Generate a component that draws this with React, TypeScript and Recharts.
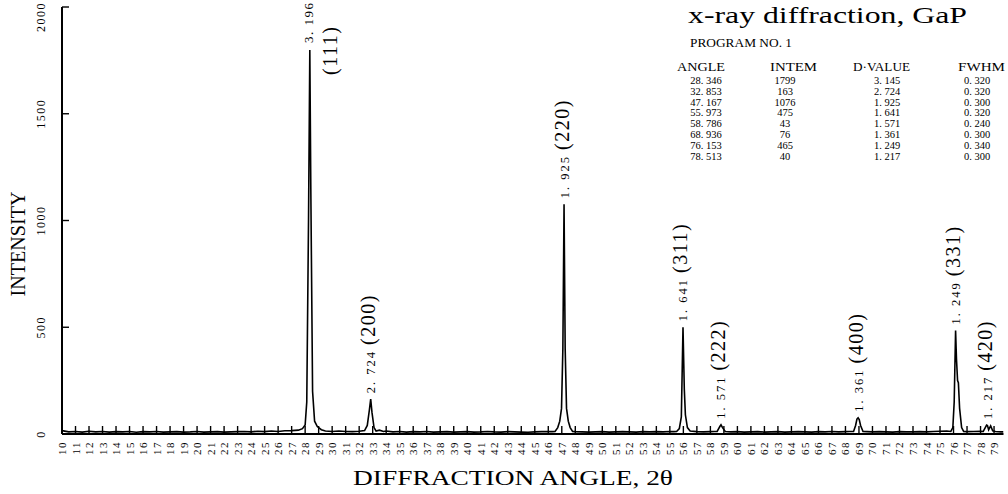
import React from 'react';
import { LineChart, Line, XAxis, YAxis, ReferenceDot, Label } from 'recharts';

// ---- measured scan (2θ in degrees, intensity in counts) ----
const scanAngle = [
  10, 10.5, 11, 11.5, 12, 12.5, 13, 13.5, 14, 14.5, 15, 15.5, 16, 16.5, 17, 17.5, 18, 18.5, 19, 19.5,
  20, 20.5, 21, 21.5, 22, 22.5, 23, 23.5, 24, 24.5, 25, 25.5, 26, 26.5, 27, 27.5, 27.8,
  28.0, 28.12, 28.25, 28.346, 28.42, 28.55, 28.7, 28.9, 29.2, 29.5,
  30, 30.5, 31, 31.5, 32, 32.4, 32.6, 32.75, 32.853, 32.95, 33.1, 33.25, 33.5, 33.8,
  34, 34.5, 35, 35.5, 36, 36.5, 37, 37.5, 38, 38.5, 39, 39.5, 40, 40.5, 41, 41.5, 42, 42.5, 43, 43.5,
  44, 44.5, 45, 45.5, 46, 46.3,
  46.5, 46.7, 46.85, 46.98, 47.08, 47.167, 47.25, 47.35, 47.48, 47.62, 47.8,
  48, 48.5, 49, 49.5, 50, 50.5, 51, 51.5, 52, 52.5, 53, 53.5, 54, 54.5, 55, 55.3,
  55.5, 55.7, 55.85, 55.973, 56.07, 56.15, 56.3, 56.5,
  57, 57.5, 58, 58.3, 58.5, 58.7, 58.786, 58.9, 59.1, 59.5,
  60, 60.5, 61, 61.5, 62, 62.5, 63, 63.5, 64, 64.5, 65, 65.5, 66, 66.5, 67, 67.5, 68, 68.3, 68.6,
  68.75, 68.85, 68.936, 69.02, 69.12, 69.3,
  69.6, 70, 70.5, 71, 71.5, 72, 72.5, 73, 73.5, 74, 74.5, 75, 75.5, 75.8,
  75.95, 76.05, 76.153, 76.22, 76.3, 76.36, 76.45, 76.6, 76.75,
  77, 77.5, 78, 78.2, 78.35, 78.45, 78.513, 78.6, 78.75, 78.9, 79.1, 79.5, 79.7,
];
const scanIntensity = [
  16, 10, 12, 9, 13, 10, 12, 9, 11, 10, 12, 8, 11, 10, 12, 9, 10, 11, 9, 10,
  12, 9, 10, 11, 9, 10, 11, 12, 10, 13, 11, 14, 12, 15, 16, 18, 25,
  42, 150, 1000, 1799, 1150, 200, 60, 35, 20, 14,
  12, 14, 12, 11, 13, 16, 40, 110, 163, 100, 30, 14, 18, 12,
  14, 10, 12, 9, 11, 10, 12, 9, 10, 11, 9, 10, 11, 9, 10, 12, 10, 9, 11, 10,
  9, 8, 10, 11, 12, 11,
  12, 30, 60, 120, 400, 1076, 400, 120, 60, 30, 12,
  11, 10, 9, 10, 11, 9, 10, 11, 10, 9, 11, 10, 11, 10, 12, 11,
  12, 25, 80, 500, 210, 90, 30, 14,
  11, 10, 11, 12, 12, 35, 43, 30, 12, 10,
  11, 9, 10, 11, 9, 10, 11, 9, 10, 11, 10, 9, 11, 10, 12, 10, 11, 12, 12,
  40, 70, 76, 68, 40, 12,
  11, 10, 11, 10, 9, 11, 10, 10, 11, 10, 12, 13, 14, 12,
  30, 150, 485, 350, 250, 240, 120, 30, 12,
  11, 12, 13, 12, 30, 42, 40, 20, 38, 15, 12, 10, 10,
];

// ---- peak annotations ----
const peakAngle = [28.346, 32.853, 47.167, 55.973, 58.786, 68.936, 76.153, 78.513];
const peakTop = [1799, 163, 1076, 500, 43, 76, 485, 42];
const peakD = ['3. 196', '2. 724', '1. 925', '1. 641', '1. 571', '1. 361', '1. 249', '1. 217'];
const peakHkl = ['(111)', '(200)', '(220)', '(311)', '(222)', '(400)', '(331)', '(420)'];

// ---- axes ----
const xTicks = Array.from({ length: 70 }, (_, i) => 10 + i);
const yTicks = [0, 500, 1000, 1500, 2000];

// ---- table in the corner ----
const tableHeaders = ['ANGLE', 'INTEM', 'D·VALUE', 'FWHM'];
const tableAngle = ['28. 346', '32. 853', '47. 167', '55. 973', '58. 786', '68. 936', '76. 153', '78. 513'];
const tableIntem = ['1799', '163', '1076', '475', '43', '76', '465', '40'];
const tableDValue = ['3. 145', '2. 724', '1. 925', '1. 641', '1. 571', '1. 361', '1. 249', '1. 217'];
const tableFwhm = ['0. 320', '0. 320', '0. 300', '0. 320', '0. 240', '0. 300', '0. 340', '0. 300'];

const data = scanAngle.map((a, i) => ({ angle: a, intensity: scanIntensity[i] }));

const FONT = '"Liberation Serif", "Times New Roman", serif';

const XTick = (p: any) => {
  const { x, y, payload } = p;
  const ty = y + 7;
  return (
    <g>
      <line x1={x} y1={y} x2={x} y2={y - 8} stroke="#000" strokeWidth={1.4} />
      <text
        x={x}
        y={ty}
        transform={`rotate(-90 ${x} ${ty})`}
        textAnchor="end"
        dominantBaseline="central"
        fontSize={11}
        letterSpacing={1.5}
        fill="#000"
        fontFamily={FONT}
      >
        {payload.value}
      </text>
    </g>
  );
};

const YTick = (p: any) => {
  const { x, y, payload } = p;
  const lx = x - 21;
  const ly = Math.max(y, 17);
  return (
    <g>
      <line x1={x} y1={y} x2={x + 7} y2={y} stroke="#000" strokeWidth={1.4} />
      <text
        x={lx}
        y={ly}
        transform={`rotate(-90 ${lx} ${ly})`}
        textAnchor="middle"
        dominantBaseline="central"
        fontSize={12}
        letterSpacing={1.5}
        fill="#000"
        fontFamily={FONT}
      >
        {payload.value}
      </text>
    </g>
  );
};

const PeakLabel = (p: any) => {
  const { cx, cy, idx } = p;
  if (cx == null || cy == null) return null;
  if (idx === 0) {
    const ax = cx + 3;
    const ay = cy - 7;
    const hx = cx + 27;
    const hy = cy + 25;
    return (
      <g fontFamily={FONT} fill="#000">
        <text x={ax} y={ay} transform={`rotate(-90 ${ax} ${ay})`} fontSize={13} letterSpacing={1.5}>
          {peakD[idx]}
        </text>
        <text x={hx} y={hy} transform={`rotate(-90 ${hx} ${hy})`} fontSize={20} letterSpacing={1.5}>
          {peakHkl[idx]}
        </text>
      </g>
    );
  }
  const ax = cx + 4.5;
  const ay = cy - 6;
  return (
    <text x={ax} y={ay} transform={`rotate(-90 ${ax} ${ay})`} fontFamily={FONT} fill="#000">
      <tspan fontSize={12.5} letterSpacing={2}>{peakD[idx]}</tspan>
      <tspan fontSize={20} letterSpacing={1.5} dx={5}>{peakHkl[idx]}</tspan>
    </text>
  );
};

const colCenter = [706, 785, 887, 977];
const headerX = [677, 770, 853, 958];
const headerW = [48, 47, 57, 47];

export default function App() {
  return (
    <div style={{ position: 'absolute', left: 0, top: 0, width: 1008, height: 494, background: '#fff', fontFamily: FONT }}>
      <LineChart
        width={1008}
        height={494}
        data={data}
        margin={{ top: 7, right: 4.5, bottom: 0, left: 0 }}
      >
        <XAxis
          dataKey="angle"
          type="number"
          domain={[10, 79.7]}
          ticks={xTicks}
          interval={0}
          allowDataOverflow
          height={60}
          tickSize={0}
          tickMargin={0}
          tickLine={false}
          axisLine={{ stroke: '#000', strokeWidth: 2 }}
          tick={(p: any) => <XTick {...p} />}
        >
          <Label
            content={(lp: any) => {
              const vb = lp.viewBox || {};
              const tx = vb.x + 291;
              const ty = vb.y + 51;
              return (
                <text x={tx} y={ty} fontSize={20} textLength={320} lengthAdjust="spacingAndGlyphs" fill="#000" fontFamily={FONT}>
                  DIFFRACTION ANGLE, 2θ
                </text>
              );
            }}
          />
        </XAxis>
        <YAxis
          type="number"
          domain={[0, 2000]}
          ticks={yTicks}
          interval={0}
          width={62}
          tickSize={0}
          tickMargin={0}
          tickLine={false}
          axisLine={{ stroke: '#000', strokeWidth: 2 }}
          tick={(p: any) => <YTick {...p} />}
        >
          <Label
            content={(lp: any) => {
              const vb = lp.viewBox || {};
              const tx = vb.x + 25;
              const ty = vb.y + 237;
              return (
                <text
                  x={tx}
                  y={ty}
                  transform={`rotate(-90 ${tx} ${ty})`}
                  textAnchor="middle"
                  fontSize={22}
                  textLength={105}
                  lengthAdjust="spacingAndGlyphs"
                  fill="#000"
                  fontFamily={FONT}
                >
                  INTENSITY
                </text>
              );
            }}
          />
        </YAxis>
        <Line
          type="linear"
          dataKey="intensity"
          stroke="#000"
          strokeWidth={1.6}
          dot={false}
          activeDot={false}
          isAnimationActive={false}
        />
        {peakAngle.map((a, i) => (
          <ReferenceDot
            key={i}
            x={a}
            y={peakTop[i]}
            r={0}
            ifOverflow="visible"
            shape={(sp: any) => <PeakLabel {...sp} idx={i} />}
          />
        ))}
      </LineChart>
      <svg
        width={1008}
        height={494}
        style={{ position: 'absolute', left: 0, top: 0, pointerEvents: 'none' }}
        fontFamily={FONT}
        fill="#000"
      >
        <text x={688} y={23} fontSize={24} textLength={279} lengthAdjust="spacingAndGlyphs">
          x-ray diffraction, GaP
        </text>
        <text x={690} y={47} fontSize={12} textLength={102} lengthAdjust="spacingAndGlyphs">
          PROGRAM NO. 1
        </text>
        {tableHeaders.map((h, i) => (
          <text key={h} x={headerX[i]} y={70.5} fontSize={12} textLength={headerW[i]} lengthAdjust="spacingAndGlyphs">
            {h}
          </text>
        ))}
        {tableAngle.map((v, r) => {
          const y = 84 + r * 10.8;
          const cells = [v, tableIntem[r], tableDValue[r], tableFwhm[r]];
          return cells.map((c, ci) => (
            <text key={`${r}-${ci}`} x={colCenter[ci]} y={y} fontSize={10.5} textAnchor="middle">
              {c}
            </text>
          ));
        })}
      </svg>
    </div>
  );
}
